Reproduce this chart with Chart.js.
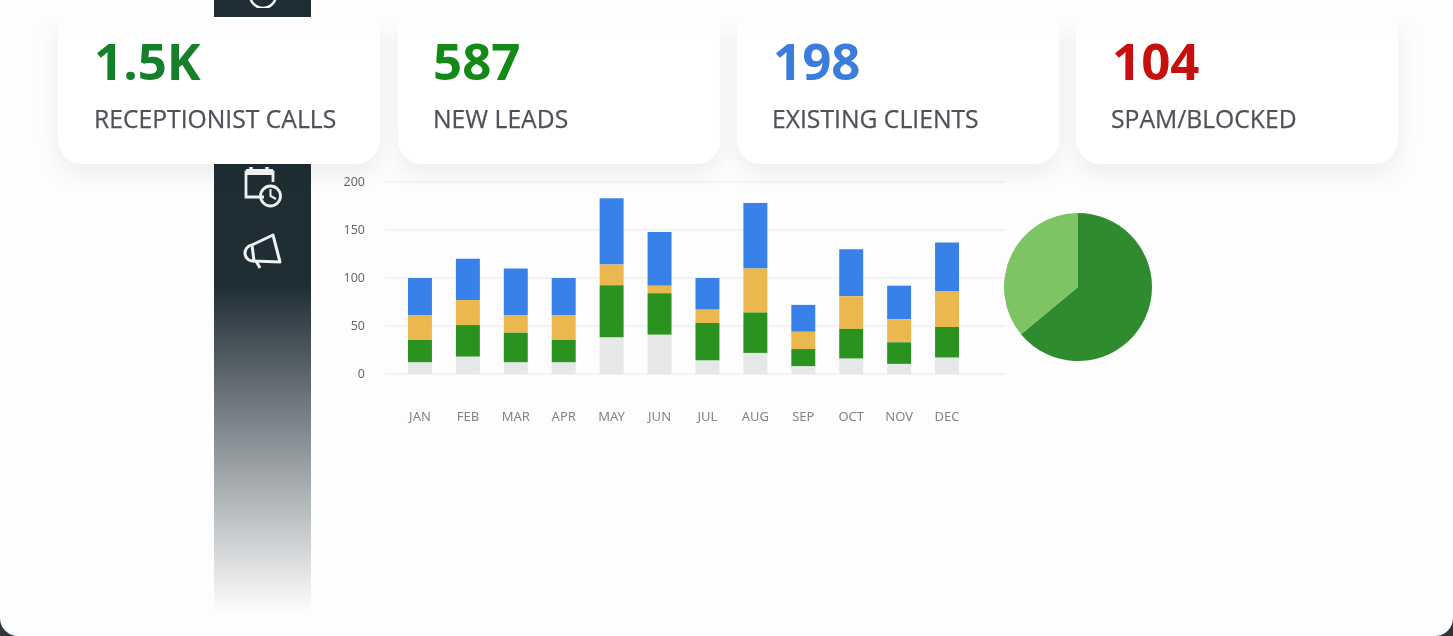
<!DOCTYPE html>
<html><head><meta charset="utf-8">
<script src="https://cdn.jsdelivr.net/npm/chart.js@4"></script>
<style>
html,body{margin:0;padding:0;width:1453px;height:636px;overflow:hidden;background:#30363a;font-family:"Open Sans","Noto Sans",sans-serif}
#page{position:absolute;left:0;top:0;width:1453px;height:636px;background:#fdfdfd;border-radius:0 0 18px 18px}
#side{position:absolute;left:214px;top:0;width:97px;height:612px;background:linear-gradient(#1f2d35 0,#1f2d35 285px,#fdfdfd 100%)}
#sideTop{position:absolute;left:214px;top:0;width:97px;height:17px;background:#1f2d35}
#gap{position:absolute;left:0;top:17px;width:1453px;height:60px;background:#fdfdfd}
canvas{position:absolute}
.wrap{position:absolute;top:0;width:422px;height:240px;-webkit-mask-image:linear-gradient(transparent 18px,#000 42px);mask-image:linear-gradient(transparent 18px,#000 42px)}
.card{position:absolute;left:50px;top:0;height:164px;width:322px;background:#fff;border-radius:0 0 24px 24px;box-shadow:0 9px 24px rgba(0,0,0,.07)}
.num{position:absolute;left:36px;top:30px;font-size:51px;font-weight:700;line-height:60px;white-space:nowrap}
.lab{position:absolute;left:36px;top:103px;font-size:24.700px;font-weight:500;color:#4e5258;line-height:32px;white-space:nowrap;-webkit-text-stroke:.25px #4e5258}
svg{position:absolute}
</style></head><body>
<div id="page"></div>
<div id="side"></div>
<div id="gap"></div>
<div id="sideTop"></div>
<svg style="left:248px;top:0" width="30" height="8" viewBox="0 0 30 8"><path d="M2 0 A13 13 0 0 0 28 0" transform="translate(0,-5)" fill="none" stroke="#fff" stroke-width="2.5"/></svg>
<canvas id="bars" width="1453" height="636" style="left:0;top:0;width:1453px;height:636px"></canvas>
<canvas id="pie" width="170" height="170" style="left:993px;top:202px;width:170px;height:170px"></canvas>
<div class="wrap" style="left:8px"><div class="card"><div class="num" style="color:#157f2a">1.5K</div><div class="lab">RECEPTIONIST CALLS</div></div></div>
<div class="wrap" style="left:348px"><div class="card"><div class="num" style="color:#138a16;left:35px">587</div><div class="lab" style="left:35px">NEW LEADS</div></div></div>
<div class="wrap" style="left:687px"><div class="card"><div class="num" style="color:#3b7ddd">198</div><div class="lab" style="left:35px">EXISTING CLIENTS</div></div></div>
<div class="wrap" style="left:1026px"><div class="card"><div class="num" style="color:#c80f0f">104</div><div class="lab" style="left:35px">SPAM/BLOCKED</div></div></div>
<svg style="left:240px;top:164px" width="46" height="44" viewBox="0 0 46 44" fill="none" stroke="#eef0f1" stroke-width="2.8">
<path d="M24 33 H6 V8 H33 V18"/><path d="M6 8 H33" stroke-width="6"/><path d="M11 3 V8 M27 3 V8" stroke-width="3.500"/>
<circle cx="30.500" cy="32" r="10"/><path d="M30.500 25 V32 L36 35" stroke-width="2"/></svg>
<svg style="left:240px;top:232px" width="44" height="40" viewBox="0 0 44 40" fill="none" stroke="#eef0f1" stroke-width="3" stroke-linejoin="round">
<path d="M12 13 L33 3 L40 30 L14 29 Z"/><path d="M12 13 A8 8 0 0 0 14 29"/><path d="M16 29 L20 36"/></svg>
<script>
const months = ["JAN","FEB","MAR","APR","MAY","JUN","JUL","AUG","SEP","OCT","NOV","DEC"];
const yTicks = [0,50,100,150,200];
const grayVals = [12,18,12,12,38,41,14,22,8,16,10.5,17];
const greenVals = [23.5,33,31,23.5,54.5,43,39,42,18,31,22.5,32];
const yellowVals = [26,26,18.500,26,21.500,8,14,46,18,34,24,37];
const blueVals = [38.500,43,48.500,38.500,69,56,33,68,28,49,35,51];
const pieVals = [64,36];
const pieColors = ["#2e8b2e","#7cc464"];

const extendedGrid = {
  id:"extendedGrid",
  beforeDatasetsDraw(c){
    const g=c.ctx, s=c.scales.y;
    g.save(); g.strokeStyle="#efefef"; g.lineWidth=1.500;
    yTicks.forEach(v=>{
      const y=Math.round(s.getPixelForValue(v));
      g.beginPath(); g.moveTo(385,y); g.lineTo(1006,y); g.stroke();
    });
    g.restore();
  }
};
const common = {barPercentage:1,categoryPercentage:0.5,borderWidth:0};
new Chart(document.getElementById("bars"),{
  type:"bar",
  data:{labels:months,datasets:[
    {label:"Other",data:grayVals,backgroundColor:"#e6e7e9",...common},
    {label:"New",data:greenVals,backgroundColor:"#2a921f",...common},
    {label:"Existing",data:yellowVals,backgroundColor:"#ebb84f",...common},
    {label:"Blocked",data:blueVals,backgroundColor:"#3781e8",...common}
  ]},
  plugins:[extendedGrid],
  options:{
    responsive:false,animation:false,
    layout:{padding:{left:326,right:482,top:182,bottom:207}},
    plugins:{legend:{display:false},tooltip:{enabled:false}},
    scales:{
      x:{stacked:true,grid:{display:false},border:{display:false},
         afterFit(s){s.height=55},
         ticks:{color:"#808488",font:{size:13,family:"Noto Sans"},padding:27,maxRotation:0,autoSkip:false}},
      y:{stacked:true,min:0,max:200,grid:{display:false,drawTicks:false},border:{display:false},
         afterFit(s){s.width=70},
         ticks:{stepSize:50,color:"#5f6368",font:{size:12.500,family:"Open Sans"},padding:31}}
    }
  }
});
new Chart(document.getElementById("pie"),{
  type:"pie",
  data:{labels:["A","B"],datasets:[{data:pieVals,backgroundColor:pieColors,borderWidth:0}]},
  options:{responsive:false,animation:false,layout:{padding:11},plugins:{legend:{display:false},tooltip:{enabled:false}}}
});
</script>
</body></html>
